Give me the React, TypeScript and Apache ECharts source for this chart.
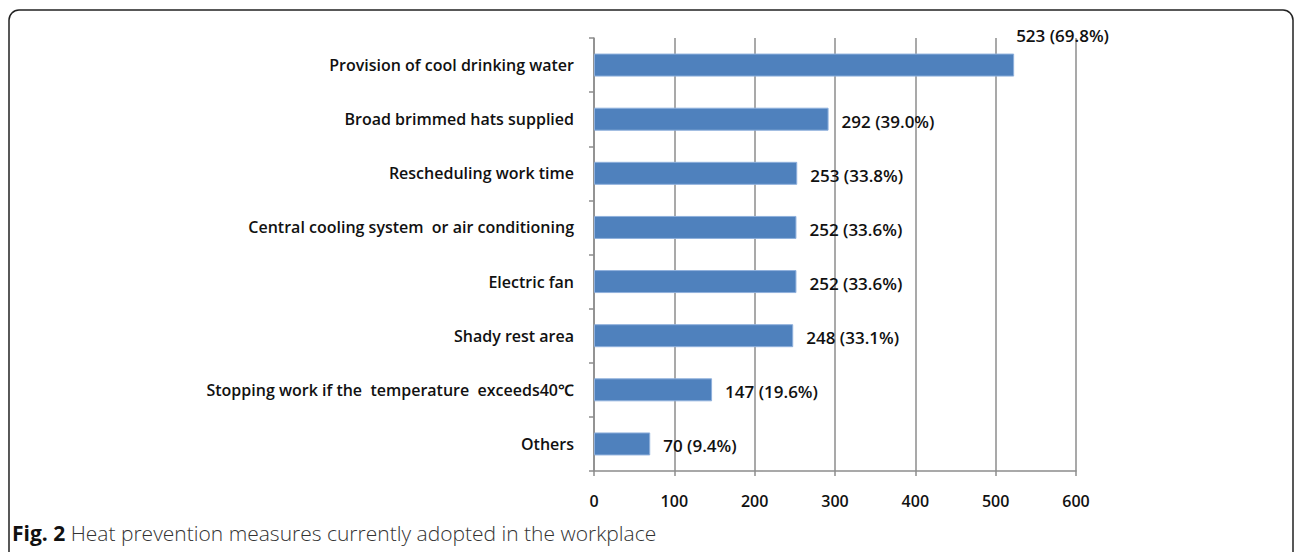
import React, { useEffect, useRef } from "react";
import * as echarts from "echarts";

const categories = [
  "Provision of cool drinking water",
  "Broad brimmed hats supplied",
  "Rescheduling work time",
  "Central cooling system  or air conditioning",
  "Electric fan",
  "Shady rest area",
  "Stopping work if the  temperature  exceeds40℃",
  "Others",
];
const counts = [523, 292, 253, 252, 252, 248, 147, 70];
const percents = ["69.8", "39.0", "33.8", "33.6", "33.6", "33.1", "19.6", "9.4"];
const xTicks = [0, 100, 200, 300, 400, 500, 600];

const FONT = "'Open Sans', 'Noto Sans', sans-serif";

export default function App() {
  const ref = useRef<HTMLDivElement>(null);
  useEffect(() => {
    if (!ref.current) return;
    const chart = echarts.init(ref.current, undefined, { renderer: "svg" });
    const data = counts.map((v, i) => {
      const item: any = { value: v };
      if (i === 0) {
        item.label = { offset: [-11, -30] };
      }
      return item;
    });
    chart.setOption({
      animation: false,
      backgroundColor: "#ffffff",
      grid: { left: 594, right: 219, top: 38, bottom: 81, containLabel: false },
      xAxis: {
        type: "value",
        min: xTicks[0],
        max: xTicks[xTicks.length - 1],
        interval: 100,
        axisLine: { show: true, lineStyle: { color: "#8c8c8c", width: 1.5 } },
        axisTick: { show: true, length: 5, lineStyle: { color: "#8c8c8c", width: 1.5 } },
        splitLine: { show: true, lineStyle: { color: "#8c8c8c", width: 1.5 } },
        axisLabel: {
          margin: 22,
          color: "#111",
          fontFamily: FONT,
          fontWeight: 600,
          fontSize: 16,
        },
      },
      yAxis: {
        type: "category",
        inverse: true,
        data: categories,
        axisLine: { show: true, lineStyle: { color: "#8c8c8c", width: 1.5 } },
        axisTick: { show: true, length: 5, lineStyle: { color: "#8c8c8c", width: 1.5 } },
        splitLine: { show: false },
        axisLabel: {
          margin: 20,
          color: "#111",
          fontFamily: FONT,
          fontWeight: 600,
          fontSize: 16,
        },
      },
      series: [
        {
          type: "bar",
          data,
          barWidth: 23,
          itemStyle: { color: "#4f81bd", borderColor: "#8fb0dc", borderWidth: 1 },
          label: {
            show: true,
            position: "right",
            distance: 13,
            offset: [0, 2],
            color: "#111",
            fontFamily: FONT,
            fontWeight: 600,
            fontSize: 17,
            formatter: (p: any) => `${counts[p.dataIndex]} (${percents[p.dataIndex]}%)`,
          },
        },
      ],
      graphic: [
        {
          type: "rect",
          shape: { x: 9, y: 10, width: 1284, height: 560, r: 10 },
          style: { fill: "none", stroke: "#222", lineWidth: 1.5 },
          silent: true,
        },
        {
          type: "text",
          left: 12,
          top: 522,
          style: {
            text: "{b|Fig. 2} Heat prevention measures currently adopted in the workplace",
            rich: {
              b: { fontFamily: FONT, fontWeight: "bold", fontSize: 21, fill: "#111" },
            },
            fontFamily: FONT,
            fontWeight: 300,
            fontSize: 21,
            fill: "#333",
          },
        },
      ],
    });
    return () => chart.dispose();
  }, []);
  return (
    <div
      ref={ref}
      style={{ position: "absolute", left: 0, top: 0, width: 1295, height: 552 }}
    />
  );
}
